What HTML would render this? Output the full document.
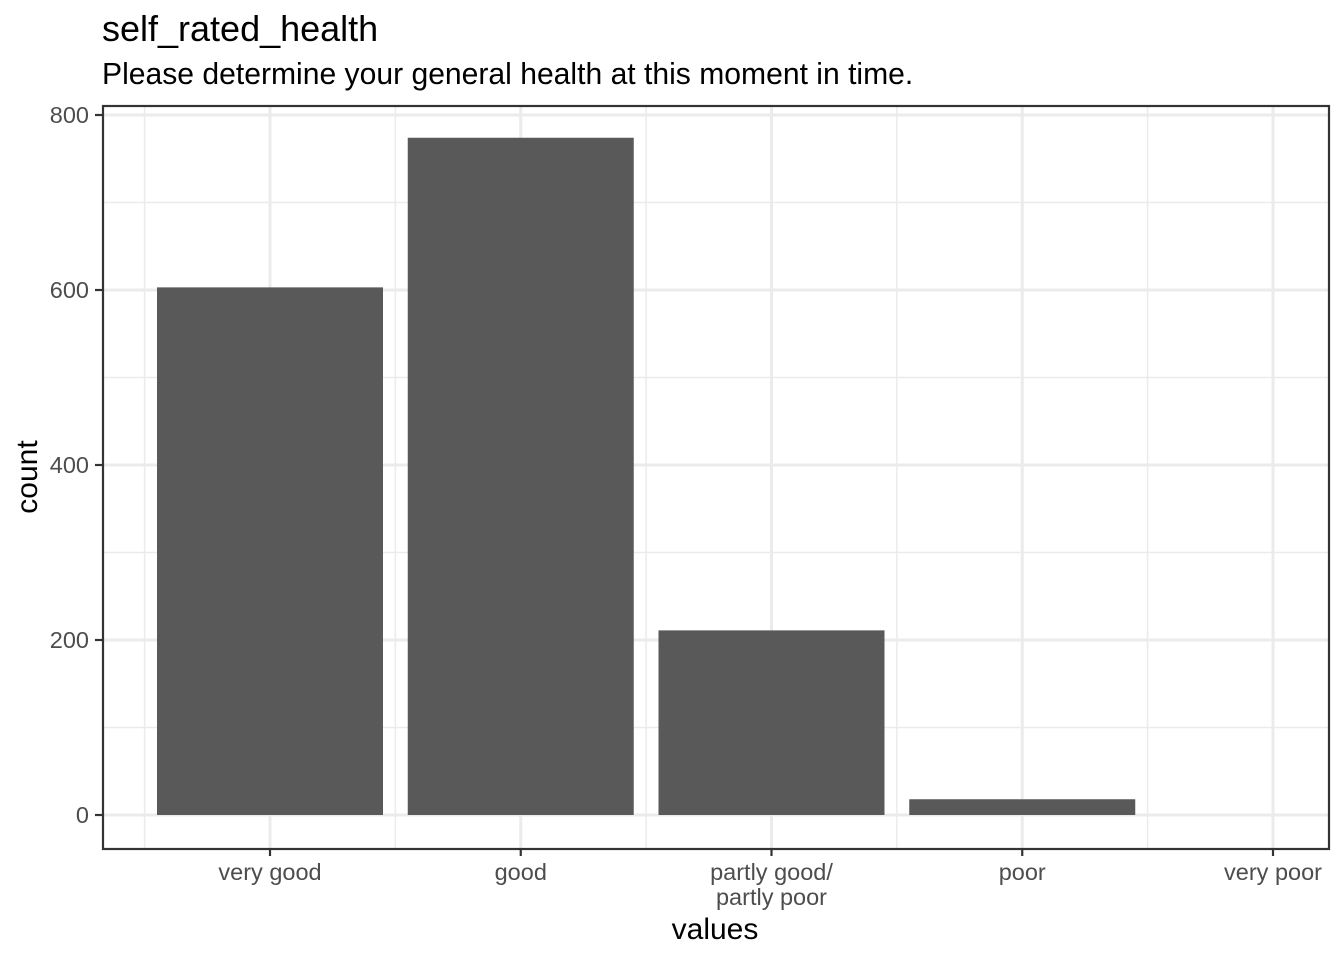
<!DOCTYPE html>
<html><head><meta charset="utf-8"><style>
body{margin:0;background:#fff;font-family:"Liberation Sans",Arial,sans-serif}
</style></head><body>
<svg width="1344" height="960" font-family="Liberation Sans, Arial, sans-serif">
<text x="102" y="41" font-size="36" fill="#000">self_rated_health</text>
<text x="102" y="84" font-size="30.1" fill="#000">Please determine your general health at this moment in time.</text>
<g id="grid"></g>
<g id="bars"></g>
<rect x="103" y="106" width="1226" height="743" fill="none" stroke="#333" stroke-width="2.2"/>
<g id="axes"></g>
<text x="715" y="939" font-size="30" text-anchor="middle">values</text>
<text transform="translate(37,477) rotate(-90)" font-size="30" text-anchor="middle">count</text>
</svg>
<script>
const categories=["very good","good","partly good/\npartly poor","poor","very poor"];
const counts=[603,774,211,18,0];
const yTicks=[0,200,400,600,800];
const NS="http://www.w3.org/2000/svg";
const x=i=>270+i*250.75;
const y=v=>815-v*0.875;
const bw=226;
function mk(tag,attrs,parent){const e=document.createElementNS(NS,tag);for(const k in attrs)e.setAttribute(k,attrs[k]);parent.appendChild(e);return e;}
const grid=document.getElementById('grid'),bars=document.getElementById('bars'),axes=document.getElementById('axes');
for(let i=0;i<yTicks.length;i++){
  const l=mk('line',{x1:103,x2:1329,y1:y(yTicks[i]),y2:y(yTicks[i]),stroke:'#ebebeb','stroke-width':3},grid);
  
  
  if(i<yTicks.length-1){const m=(yTicks[i]+yTicks[i+1])/2;
    const ml=mk('line',{x1:103,x2:1329,y1:y(m),y2:y(m),stroke:'#ebebeb','stroke-width':1.5},grid);
    
    }
  const t=mk('line',{x1:95,x2:102,y1:y(yTicks[i]),y2:y(yTicks[i]),stroke:'#333','stroke-width':2.2},axes);
  
  
  const tx=mk('text',{x:89,y:y(yTicks[i])+8,'font-size':23.5,'text-anchor':'end',fill:'#4d4d4d'},axes);
  tx.textContent=yTicks[i];
  
  
}
for(let i=0;i<categories.length;i++){
  const g=mk('line',{x1:x(i),x2:x(i),y1:106,y2:849,stroke:'#ebebeb','stroke-width':3},grid);
  
  
  const mx=x(i)-125.4;
  const gm=mk('line',{x1:mx,x2:mx,y1:106,y2:849,stroke:'#ebebeb','stroke-width':1.5},grid);
  
  
  if(counts[i]>0){
    const b=mk('rect',{x:x(i)-bw/2,y:y(counts[i]),width:bw,height:y(0)-y(counts[i]),fill:'#595959'},bars);
    
    
  }
  const t=mk('line',{x1:x(i),x2:x(i),y1:849,y2:856,stroke:'#333','stroke-width':2.2},axes);
  
  
  const lines=categories[i].split('\n');
  lines.forEach((s,j)=>{
    const tx=mk('text',{x:x(i),y:880+j*25,'font-size':23.5,'text-anchor':'middle',fill:'#4d4d4d'},axes);
    tx.textContent=s;
    
    
  });
}
</script>
</body></html>
